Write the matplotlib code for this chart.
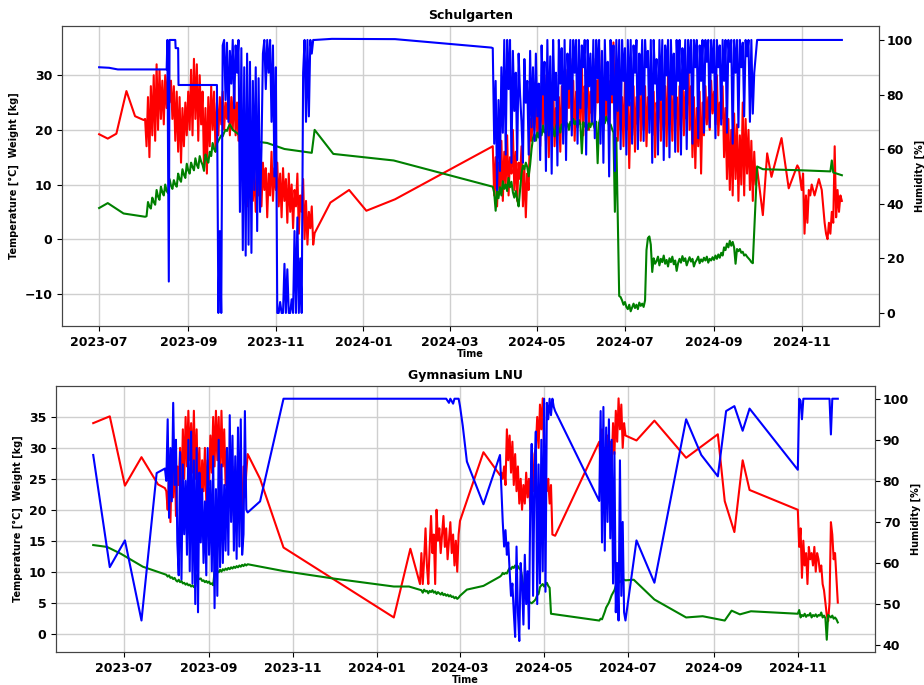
"""
plot.py - Schulgarten / Gymnasium LNU sensor overview
(temperature + weight on the left axis, humidity on the right axis)
"""
import matplotlib
matplotlib.use("Agg")
import matplotlib.pyplot as plt
import matplotlib.dates as mdates
import pandas as pd

# ---------------------------------------------------------------------------
# Data: sparse readings (date, value) + daily blocks (start date, values)
# ---------------------------------------------------------------------------

# ---- Schulgarten: temperature [°C]
sg_temp_pts = [("2023-07-01", 19.2), ("2023-07-07", 18.4), ("2023-07-13", 19.3),
               ("2023-07-20", 27.1), ("2023-07-26", 22.5), ("2023-08-01", 21.8),
               ("2023-11-28", 1.1), ("2023-12-09", 6.7), ("2023-12-22", 9.0),
               ("2024-01-03", 5.2), ("2024-01-23", 7.3),
               ("2024-10-05", 4.4), ("2024-10-08", 15.7), ("2024-10-11", 11.4),
               ("2024-10-18", 18.5), ("2024-10-23", 9.3), ("2024-10-29", 13.5)]
sg_temp_2023 = [22, 17, 26, 15, 28, 19, 30, 18, 32, 20, 31, 22, 29, 21, 30,
                24, 31, 25, 29, 22, 28, 18, 27, 16, 26, 14, 24, 17, 25, 19,
                27, 20, 31, 19, 33, 22, 32, 18, 30, 21, 27, 13, 24, 12, 26,
                17, 28, 20, 27, 16, 25, 19, 26, 21, 27, 20, 25, 22, 27, 19,
                26, 20, 28, 19, 25, 18, 22, 12, 20, 9, 17, 6, 15, 9, 14,
                7, 13, 5, 12, 8, 15, 6, 14, 9, 13, 4, 12, 8, 16, 7, 13,
                9, 14, 6, 12, 4, 13, 7, 11, 3, 12, 5, 10, 2, 9, 6,
                12, 1, 8, 5, 11, 0, 7, -1, 5, 2, 6, -1]
sg_temp_2024 = [17, 8, 15, 6, 14, 9, 18, 7, 16, 10, 19, 8, 15, 12, 20,
                9, 16, 7, 14, 11, 17, 6, 13, 4, 12, 9, 22, 18, 24, 20,
                27, 19, 26, 17, 28, 21, 30, 18, 25, 15, 27, 20, 29, 17, 24,
                19, 26, 16, 28, 22, 30, 19, 31, 24, 33, 20, 29, 18, 27, 22,
                30, 21, 32, 19, 28, 24, 31, 20, 27, 23, 33, 21, 29, 25, 35,
                23, 30, 20, 28, 22, 31, 19, 29, 25, 36, 22, 30, 18, 27, 20,
                26, 17, 29, 20, 27, 13, 25, 19, 28, 16, 26, 21, 30, 18, 27,
                20, 28, 17, 26, 22, 30, 19, 27, 15, 25, 21, 29, 18, 26, 20,
                28, 17, 30, 21, 27, 18, 29, 22, 26, 16, 28, 20, 31, 19, 27,
                22, 35, 20, 28, 15, 26, 13, 24, 17, 27, 12, 25, 19, 28, 21,
                26, 20, 29, 23, 27, 21, 30, 19, 25, 22, 28, 15, 24, 11, 22,
                9, 20, 8, 23, 11, 21, 7, 19, 10, 25, 8, 22, 12, 20, 9,
                18, 7, 16, 10, 13]
sg_temp_nov24 = [13, 11, 9, 12, 1, 8, 3, 9, 8, 10, 9, 8, 9, 10, 11, 10, 9, 6, 3, 1,
                 0, 3, 1, 5, 3, 17, 4, 9, 5, 8, 7]

# ---- Schulgarten: weight [kg]
sg_weight_pts = [("2023-07-01", 5.7), ("2023-07-07", 6.6), ("2023-07-18", 4.7),
                 ("2023-08-02", 4.1),
                 ("2023-10-10", 18.4), ("2023-10-17", 17.9), ("2023-10-26", 17.6),
                 ("2023-11-07", 16.5), ("2023-11-18", 16.1), ("2023-11-26", 15.8),
                 ("2023-11-28", 20.0), ("2023-12-11", 15.6), ("2024-01-22", 14.4),
                 ("2024-03-31", 9.6), ("2024-06-27", -10.4),
                 ("2024-10-01", 13.3), ("2024-10-05", 12.8), ("2024-11-01", 12.6),
                 ("2024-11-21", 12.4), ("2024-11-22", 14.4), ("2024-11-23", 12.2),
                 ("2024-11-29", 11.7)]
sg_weight_2023 = [4.2, 6.8, 6.0, 5.6, 7.6, 6.8, 6.3, 9.0, 7.8, 7.2,
                  9.6, 8.6, 8.0, 10.0, 8.8, 8.4, 11.0, 9.8, 9.2, 10.8,
                  10.0, 9.6, 12.0, 11.0, 10.5, 12.8, 11.8, 11.2, 13.8, 12.6,
                  12.0, 14.0, 13.2, 12.6, 14.8, 13.6, 13.0, 15.2, 14.2, 13.6,
                  12.5, 15.5, 14.6, 14.0, 16.0, 15.2, 17.6, 16.5, 16.0, 17.5,
                  18.0, 18.5, 19.0, 18.8, 19.5, 20.0, 19.8, 20.5, 21.0, 20.5, 20.0]
sg_weight_spring24 = [8.5, 5.2, 8.8, 7.5, 9.5, 8.0, 10.6, 9.2, 10.0, 8.8,
                      11.2, 9.5, 10.5, 8.6, 7.6, 8.8, 7.3, 6.0, 9.0, 12.0,
                      13.5, 12.8, 14.0, 13.2, 11.5, 13.6, 16.5, 18.5, 19.2, 18.0,
                      19.5, 18.6, 20.2, 19.0, 20.8, 19.5, 20.0, 21.0, 19.6, 20.5,
                      21.2, 20.0, 18.8, 20.6, 21.5, 20.2, 19.5, 21.0, 20.4, 21.8,
                      20.5, 21.2, 20.0, 21.5, 20.8, 22.0, 21.0, 21.6, 20.4, 21.8, 21.0,
                      15.7, 21.4, 20.6, 21.5, 20.0, 21.2, 20.5, 21.6, 21.0, 20.2,
                      21.5, 13.9, 21.3, 22.3, 21.5, 22.0, 21.2, 22.4, 21.6, 20.8,
                      21.0, 20.2, 19.5, 5.0, 18.5]
sg_weight_july24 = [-10.6, -11.2, -12.0, -11.5, -12.4, -12.8, -12.0, -13.2, -12.5,
                    -11.8, -12.6, -12.0, -12.8, -11.6, -12.2, -11.8, -12.4, -11.2]
sg_weight_summer24 = [-2.0, 0.2, 0.5, -1.0, -6.0, -3.5, -4.5, -4.0, -3.2, -4.8,
                      -3.6, -4.2, -3.0, -4.5, -3.8, -5.0,
                      -3.5, -4.2, -3.2, -4.6, -3.9, -5.8, -4.4, -3.6, -4.3, -3.1,
                      -4.0, -3.5, -4.8, -4.0, -3.3, -4.1, -3.6, -5.0, -4.2, -3.8,
                      -3.2, -4.4, -3.7, -4.1, -3.4, -3.9, -3.2, -4.3, -3.6, -3.9, -3.3,
                      -3.8, -3.0, -3.6, -2.8, -3.4, -2.5, -3.0, -1.5, -2.0, -0.8,
                      -1.5, -0.3, -1.2, -0.5, -1.5, -4.5, -1.8, -2.2, -1.8, -2.5,
                      -2.3, -3.0, -2.8, -3.2, -3.5, -3.8, -4.2, -4.4]

# ---- Schulgarten: humidity [%]
sg_hum_pts = [("2023-07-01", 90.0), ("2023-07-08", 89.8), ("2023-07-14", 89.2),
              ("2023-08-17", 89.2), ("2023-08-17 12:00", 100), ("2023-08-18 12:00", 11.5),
              ("2023-08-19", 100), ("2023-08-23", 100), ("2023-08-23 06:00", 97),
              ("2023-08-25", 97), ("2023-08-25 06:00", 83.5), ("2023-09-21", 83.5),
              ("2023-12-10", 100.4), ("2024-01-23", 100.3), ("2024-03-30", 97.2),
              ("2024-10-01", 100), ("2024-11-29", 100)]
sg_hum_autumn23 = [0, 30, 0, 98, 100, 78, 99, 70, 96,
                   84, 100, 75, 98, 88, 100, 37, 97, 23, 90,
                   21, 95, 25, 92, 22, 85, 45, 90, 30, 86,
                   37, 60, 95, 100, 82, 100, 88, 100, 70, 98, 50,
                   90, 0, 0, 4, 0, 0, 18, 0, 16, 0,
                   0, 5, 0, 30, 0, 35, 0, 20, 0, 88,
                   100, 70, 100, 72, 100, 95, 100, 100]
sg_hum_2024 = [97, 62, 85, 45, 78, 52, 90, 66, 100, 58,
               100, 82, 100, 55, 96, 74, 88, 56, 95, 80,
               70, 55, 93, 77, 85, 58, 96, 68, 90, 63,
               95, 72, 84, 56, 98, 80, 92, 52, 100, 65,
               94, 51, 100, 78, 88, 54, 100, 84, 97, 62,
               100, 56, 95, 82, 100, 65, 100, 88, 100, 62,
               100, 75, 98, 90, 100, 58, 100, 83, 95, 70,
               100, 64, 100, 86, 100, 62, 96, 55, 100, 78,
               92, 50, 100, 80, 98, 52, 100, 74, 100, 60,
               100, 85, 97, 58, 100, 76, 100, 62, 98, 88,
               100, 60, 95, 80, 100, 63, 100, 90, 96, 66,
               100, 55, 100, 84, 93, 58, 100, 78, 100, 56,
               98, 87, 100, 57, 100, 80, 95, 59, 100, 85,
               100, 58, 97, 82, 100, 60, 100, 88, 100, 62,
               100, 90, 100, 64, 98, 85, 100, 66, 100, 92,
               100, 68, 100, 88, 100, 64, 100, 90, 98, 69,
               100, 85, 100, 66, 100, 92, 100, 62, 100, 88,
               100, 68, 100, 90, 99, 72, 100, 94, 100, 70,
               100, 73, 88]

# ---- Gymnasium LNU: temperature [°C]
gy_temp_pts = [("2023-06-09", 34.0), ("2023-06-21", 35.1), ("2023-07-02", 23.9),
               ("2023-07-14", 28.5), ("2023-07-26", 24.1), ("2023-07-31", 23.5),
               ("2023-10-08", 25.0), ("2023-10-25", 13.9), ("2024-01-13", 2.6),
               ("2024-01-25", 13.7), ("2024-02-29", 16.0), ("2024-03-01", 18.2),
               ("2024-03-18", 29.3), ("2024-03-30", 25.6), ("2024-05-09", 15.8),
               ("2024-07-07", 31.2), ("2024-07-20", 34.4), ("2024-08-12", 28.4),
               ("2024-09-04", 32.2), ("2024-09-09", 21.4), ("2024-09-16", 16.4),
               ("2024-09-22", 28.0), ("2024-09-27", 23.2)]
gy_temp_aug23 = [23, 20, 26, 18, 28, 22, 30, 19, 27, 24,
                 30, 22, 33, 25, 35, 27, 36, 28, 34, 26,
                 36, 25, 33, 22, 30, 20, 28, 23, 30, 21,
                 28, 24, 32, 26, 35, 27, 36, 28, 35, 25,
                 36, 27, 33, 24, 30, 22, 28, 20, 27, 19,
                 26, 18, 28, 21, 25, 19, 27, 22, 26, 29]
gy_temp_feb24 = [8, 13, 8, 12, 17, 11, 8, 14, 19, 13, 16, 8, 20, 15,
                 17, 13, 16, 19, 14, 17, 12, 15, 18, 13, 16, 11, 15, 10]
gy_temp_apr24 = [26, 25, 27, 24, 33, 28, 32, 26, 31, 24, 29, 23, 27, 21, 25,
                 20, 24, 21, 26, 22, 25, 20, 27, 23, 29, 30, 35, 30, 37, 33,
                 38, 29, 26, 23, 25, 21, 24, 16]
gy_temp_jun24 = [31, 27, 33, 26, 30, 25, 32, 28, 31, 27,
                 34, 29, 36, 31, 38, 33, 37, 30, 34, 32]
gy_temp_nov24 = [20, 14, 17, 9, 15, 11, 13, 8, 14, 12, 13, 11, 14, 10, 13,
                 12, 10, 11, 8, 7, 5, 3, 2, 5, 18, 16, 12, 13, 9, 5]

# ---- Gymnasium LNU: weight [kg]
gy_weight_pts = [("2023-06-09", 14.3), ("2023-06-19", 14.0), ("2023-06-29", 12.9),
                 ("2023-07-15", 10.8), ("2023-10-25", 10.1), ("2023-11-30", 8.9),
                 ("2024-01-13", 7.6), ("2024-01-24", 7.6), ("2024-03-01", 6.1),
                 ("2024-03-06", 7.1), ("2024-03-18", 7.7), ("2024-03-30", 9.2),
                 ("2024-07-05", 8.7), ("2024-07-20", 5.5), ("2024-08-12", 2.6),
                 ("2024-08-24", 2.8), ("2024-09-09", 2.1), ("2024-09-14", 3.7),
                 ("2024-09-20", 3.1), ("2024-09-28", 3.6)]
gy_weight_aug23 = [9.5, 9.2, 9.4, 9.0, 9.1, 8.8, 9.0, 8.6, 8.4, 8.7,
                   8.3, 8.5, 8.1, 8.2, 7.9, 8.1, 7.8, 7.9, 7.6, 7.8,
                   7.5, 7.6, 9.4, 9.0, 8.8, 8.9, 8.5, 8.6, 8.3, 8.5,
                   8.2, 8.4, 8.0, 8.1, 7.8, 10.0, 9.8, 10.1, 9.9, 10.3,
                   10.0, 10.4, 10.2, 10.5, 10.3, 10.6, 10.4, 10.7, 10.5, 10.8,
                   10.6, 10.9, 10.7, 11.0, 10.8, 11.1, 10.9, 11.2, 11.0, 11.2]
gy_weight_feb24 = [7.0, 6.6, 7.1, 6.8, 6.9, 6.5, 6.9, 6.7, 7.0, 6.6, 6.8, 6.4, 6.7, 6.5,
                   6.3, 6.6, 6.2, 6.4, 6.1, 6.3, 6.0, 6.2, 5.9, 6.0, 5.7, 5.9, 5.6, 5.8]
gy_weight_apr24 = [9.4, 9.8, 9.6, 9.8, 9.7, 10.2, 10.6, 10.4, 10.8, 10.6,
                   11.0, 10.7, 10.9, 10.5, 10.3, 9.2, 7.5, 7.2, 6.5, 5.6,
                   5.2, 5.0, 4.9, 5.1, 5.3, 5.6, 6.2, 6.4, 7.5, 7.8,
                   8.0, 7.6, 7.9, 8.2, 7.7, 7.4, 3.2]
gy_weight_jun24 = [2.1, 2.4, 2.3, 2.9, 3.5, 4.2, 4.6, 5.0, 5.6, 6.2,
                   6.6, 7.0, 7.7, 7.9, 8.2, 8.5, 8.3, 8.6, 8.7, 8.6]
gy_weight_nov24 = [3.2, 3.8, 2.6, 3.0, 2.8, 3.2, 2.7, 3.0, 2.9, 3.3, 2.6, 3.0, 2.8, 3.1, 2.7,
                   3.0, 2.9, 3.4, 2.6, 2.9, 2.5, -1.0, 3.0, 2.8, 2.6, 2.9, 2.4, 2.6, 2.3, 1.8]

# ---- Gymnasium LNU: humidity [%]
gy_hum_pts = [("2023-06-09", 86.3), ("2023-06-21", 59.0), ("2023-07-02", 65.5),
              ("2023-07-14", 46.0), ("2023-07-25", 81.9), ("2023-07-31", 83.0),
              ("2023-09-29", 72.3), ("2023-10-08", 75.0), ("2023-10-25", 100),
              ("2024-02-20", 100), ("2024-02-22", 99.0), ("2024-02-23", 100),
              ("2024-02-25", 98.8), ("2024-02-26", 100), ("2024-02-29", 100),
              ("2024-03-01", 98.2), ("2024-03-03", 93.4), ("2024-03-06", 84.7),
              ("2024-03-18", 74.3), ("2024-03-30", 86.3), ("2024-03-31", 78.3),
              ("2024-06-10", 75.1), ("2024-07-07", 65.5), ("2024-07-20", 55.2),
              ("2024-08-12", 95.0), ("2024-08-23", 86.3), ("2024-09-04", 81.1),
              ("2024-09-10", 97.0), ("2024-09-16", 98.2), ("2024-09-22", 92.2),
              ("2024-09-27", 97.6), ("2024-11-01", 82.7)]
gy_hum_aug23 = [80, 95, 71, 88, 75, 99, 79, 90, 65, 57,
                87, 56, 84, 67, 80, 62, 90, 58, 92, 55,
                85, 50, 88, 48, 82, 65, 78, 60, 75, 57,
                88, 62, 80, 58, 86, 49, 78, 52, 90, 59,
                84, 60, 79, 63, 88, 62, 96, 70, 91, 63,
                86, 61, 93, 64, 95, 62, 67, 97, 73]
gy_hum_apr24 = [70, 64, 68, 62, 65, 58, 52, 55, 48, 42,
                64, 48, 41, 60, 55, 45, 62, 50, 58, 44,
                75, 89, 52, 80, 92, 50, 84, 55, 90, 58,
                100, 53, 99, 95, 100, 96, 100, 98, 97]
gy_hum_jun24 = [97, 65, 98, 63, 93, 70, 95, 66, 90, 55,
                87, 48, 60, 46, 85, 52, 70, 48, 46]
gy_hum_nov24 = [100, 99.5, 95, 100, 100, 100, 100, 100, 100, 100, 100, 100, 100, 100, 100,
                100, 100, 100, 100, 100, 100, 100, 100, 91.3, 100, 100, 100, 100, 100]


def build(points, blocks):
    """Merge sparse readings and daily blocks into one time-sorted series."""
    idx = pd.to_datetime([d for d, _ in points], format="mixed")
    parts = [pd.Series([v for _, v in points], index=idx)]
    for start, vals in blocks:
        parts.append(pd.Series(vals, index=pd.date_range(start, periods=len(vals), freq="D")))
    return pd.concat(parts).sort_index()


panels = [
    {
        "title": "Schulgarten",
        "rect": [0.0671, 0.524, 0.8842, 0.438],
        "temp": build(sg_temp_pts, [("2023-08-02", sg_temp_2023), ("2024-03-31", sg_temp_2024),
                                    ("2024-10-30", sg_temp_nov24)]),
        "weight": build(sg_weight_pts, [("2023-08-03", sg_weight_2023), ("2024-04-01", sg_weight_spring24),
                                        ("2024-06-28", sg_weight_july24), ("2024-07-16", sg_weight_summer24)]),
        "hum": build(sg_hum_pts, [("2023-09-22", sg_hum_autumn23), ("2024-03-31", sg_hum_2024)]),
        "ylim": (-15.9, 39.0), "yticks": [-10, 0, 10, 20, 30],
        "ylim2": (-4.8, 105.1), "yticks2": [0, 20, 40, 60, 80, 100],
    },
    {
        "title": "Gymnasium LNU",
        "rect": [0.0606, 0.048, 0.8864, 0.3885],
        "temp": build(gy_temp_pts, [("2023-08-01", gy_temp_aug23), ("2024-02-01", gy_temp_feb24),
                                    ("2024-03-31", gy_temp_apr24), ("2024-06-10", gy_temp_jun24),
                                    ("2024-11-01", gy_temp_nov24)]),
        "weight": build(gy_weight_pts, [("2023-08-01", gy_weight_aug23), ("2024-02-02", gy_weight_feb24),
                                        ("2024-03-31", gy_weight_apr24), ("2024-06-10", gy_weight_jun24),
                                        ("2024-11-01", gy_weight_nov24)]),
        "hum": build(gy_hum_pts, [("2023-08-01", gy_hum_aug23), ("2024-04-01", gy_hum_apr24),
                                  ("2024-06-11", gy_hum_jun24), ("2024-11-02", gy_hum_nov24)]),
        "ylim": (-3.0, 40.0), "yticks": [0, 5, 10, 15, 20, 25, 30, 35],
        "ylim2": (38.3, 103.1), "yticks2": [40, 50, 60, 70, 80, 90, 100],
    },
]

# ---------------------------------------------------------------------------
# Plot
# ---------------------------------------------------------------------------
plt.rcParams["font.family"] = "DejaVu Sans"
plt.rcParams["font.weight"] = "bold"

fig = plt.figure(figsize=(9.24, 6.85), dpi=100)

for p in panels:
    ax = fig.add_axes(p["rect"])
    ax.plot(p["temp"].index, p["temp"].values, color="red", lw=1.5)
    ax.plot(p["weight"].index, p["weight"].values, color="green", lw=1.5)
    ax.set_ylim(*p["ylim"])
    ax.set_yticks(p["yticks"])
    ax.set_ylabel("Temperature [°C]  Weight [kg]", fontsize=7, fontweight="bold", labelpad=4)
    ax.set_xlabel("Time", fontsize=7, fontweight="bold", labelpad=0)
    ax.set_title(p["title"], fontsize=9, fontweight="bold", pad=5)
    ax.grid(True, color="#cfcfcf", lw=1.0)
    ax.set_axisbelow(True)
    ax.xaxis.set_major_locator(mdates.MonthLocator(bymonth=[1, 3, 5, 7, 9, 11]))
    ax.xaxis.set_major_formatter(mdates.DateFormatter("%Y-%m"))
    ax.tick_params(labelsize=9)

    ax2 = ax.twinx()
    ax2.plot(p["hum"].index, p["hum"].values, color="blue", lw=1.5)
    ax2.set_ylim(*p["ylim2"])
    ax2.set_yticks(p["yticks2"])
    ax2.set_ylabel("Humidity [%]", fontsize=7, fontweight="bold", labelpad=1)
    ax2.tick_params(labelsize=9, pad=2)
    for a in (ax, ax2):
        for s in a.spines.values():
            s.set_color("#444444")

fig.savefig("out.png", dpi=100)
